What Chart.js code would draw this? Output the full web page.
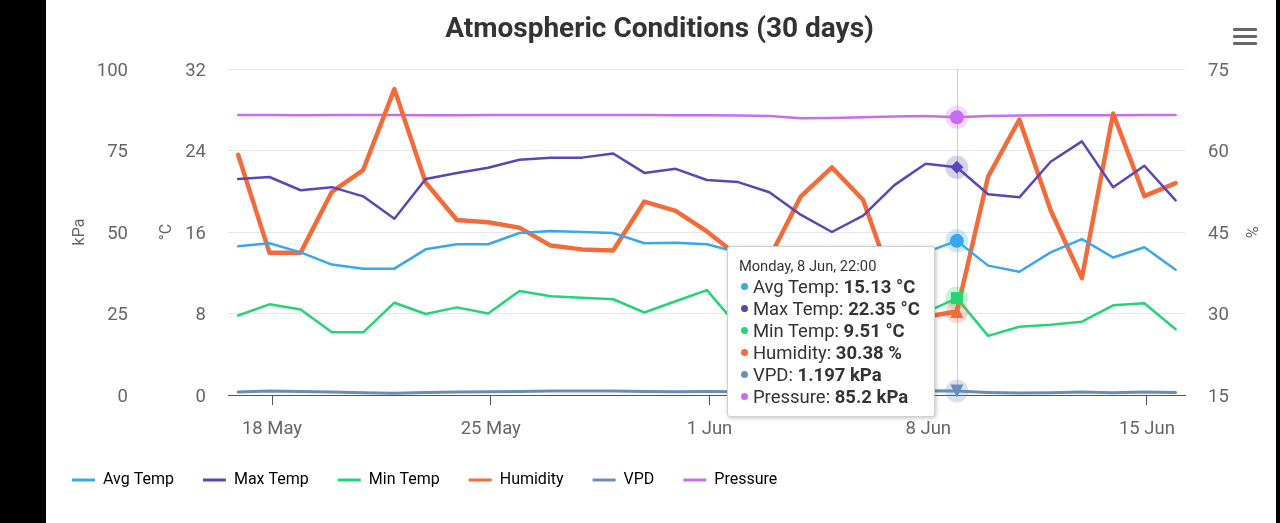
<!DOCTYPE html>
<html>
<head>
<meta charset="utf-8">
<title>Atmospheric Conditions</title>
<script src="https://cdn.jsdelivr.net/npm/chart.js@4.4.1/dist/chart.umd.min.js"></script>
<style>
    html, body {
        margin: 0;
        padding: 0;
        width: 1280px;
        height: 523px;
        overflow: hidden;
        background: #000;
        font-family: Roboto, 'Noto Sans', sans-serif;
    }
    #paper {
        position: absolute;
        left: 46px;
        top: 0;
        width: 1230px;
        height: 523px;
        background: #fff;
    }
    #box {
        position: absolute;
        left: 43px;
        top: 0;
        width: 1233px;
        height: 523px;
    }
    #menu {
        position: absolute;
        left: 1233px;
        top: 28px;
        width: 24px;
    }
    #menu span {
        display: block;
        height: 3px;
        margin-bottom: 4px;
        background: #666;
        border-radius: 1px;
    }
    #tip {
        position: absolute;
        display: none;
        background: #fff;
        border: 1px solid #d0d0d0;
        border-radius: 3px;
        box-shadow: 1px 1px 4px rgba(0, 0, 0, 0.25);
        padding: 9px 14px 8px 11px;
        color: #333;
        white-space: nowrap;
        pointer-events: none;
    }
    #tip .t { font-size: 14.7px; line-height: 21px; margin-bottom: 0; }
    #tip .r { font-size: 18.5px; line-height: 21.9px; }
    #tip .d {
        display: inline-block;
        width: 7px;
        height: 7px;
        border-radius: 50%;
        margin: 0 5px 3px 2px;
        vertical-align: middle;
    }
    #tip b { font-weight: bold; }
</style>
</head>
<body>
<div id="paper"></div>
<div id="box">
    <canvas id="chart"></canvas>
    <div id="tip"></div>
</div>
<div id="menu"><span></span><span></span><span></span></div>

<script>
// one reading per day, taken at 22:00
const days = [
    '2020-05-16', '2020-05-17', '2020-05-18', '2020-05-19', '2020-05-20', '2020-05-21',
    '2020-05-22', '2020-05-23', '2020-05-24', '2020-05-25', '2020-05-26', '2020-05-27',
    '2020-05-28', '2020-05-29', '2020-05-30', '2020-05-31', '2020-06-01', '2020-06-02',
    '2020-06-03', '2020-06-04', '2020-06-05', '2020-06-06', '2020-06-07', '2020-06-08',
    '2020-06-09', '2020-06-10', '2020-06-11', '2020-06-12', '2020-06-13', '2020-06-14',
    '2020-06-15'
];
const readingTime = 'T22:00:00Z';
const tickDays = ['2020-05-18', '2020-05-25', '2020-06-01', '2020-06-08', '2020-06-15'];

const avgTemp = [14.6, 14.9, 14.0, 12.8, 12.4, 12.4, 14.3, 14.8, 14.8, 15.9, 16.1, 16.0, 15.9, 14.9, 14.95, 14.8,
    14.0, 13.2, 12.2, 11.4, 12.3, 13.4, 14.0, 15.13, 12.7, 12.1, 14.0, 15.3, 13.5, 14.5, 12.3];
const maxTemp = [21.2, 21.4, 20.1, 20.4, 19.5, 17.3, 21.2, 21.8, 22.3, 23.1, 23.3, 23.3, 23.7, 21.8, 22.2, 21.1,
    20.9, 19.9, 17.7, 16.0, 17.6, 20.6, 22.7, 22.35, 19.7, 19.4, 22.9, 24.9, 20.4, 22.5, 19.1];
const minTemp = [7.8, 8.9, 8.4, 6.15, 6.15, 9.06, 7.95, 8.6, 8.0, 10.2, 9.7, 9.55, 9.4, 8.1, 9.2, 10.3,
    6.7, 6.2, 5.8, 5.3, 6.0, 7.2, 8.1, 9.51, 5.8, 6.7, 6.9, 7.2, 8.8, 9.0, 6.45];
const humidity = [59.2, 41.2, 41.2, 52.4, 56.4, 71.3, 54.1, 47.2, 46.8, 45.8, 42.5, 41.8, 41.6, 50.6, 48.9, 45.1,
    40.6, 40.2, 51.5, 56.9, 50.9, 34.6, 29.4, 30.38, 55.2, 65.7, 49.0, 36.5, 66.8, 51.6, 54.0];
const vpd = [0.9, 1.2, 1.1, 0.9, 0.7, 0.5, 0.8, 0.9, 1.0, 1.1, 1.2, 1.2, 1.2, 1.1, 1.0, 1.1,
    1.0, 0.9, 0.8, 0.7, 0.9, 1.0, 1.3, 1.197, 0.8, 0.6, 0.7, 0.9, 0.7, 0.9, 0.8];
const pressure = [85.9, 85.9, 85.8, 85.9, 85.9, 85.9, 85.8, 85.8, 85.9, 85.9, 85.9, 85.9, 85.9, 85.9, 85.8, 85.8,
    85.7, 85.6, 84.9, 85.0, 85.2, 85.4, 85.6, 85.2, 85.6, 85.7, 85.8, 85.8, 85.8, 85.9, 85.9];

const kpaTicks = { min: 0, max: 100, step: 25 };
const tempTicks = { min: 0, max: 32, step: 8 };
const humTicks = { min: 15, max: 75, step: 15 };

const hoverIndex = 23;  // 8 Jun, 22:00
const padBeforeHours = 7.8;
const padAfterHours = 7.2;

const HOUR = 3600 * 1000;
const times = days.map(d => Date.parse(d + readingTime));
const tickTimes = tickDays.map(d => Date.parse(d + 'T00:00:00Z'));

const weekdays = ['Sunday', 'Monday', 'Tuesday', 'Wednesday', 'Thursday', 'Friday', 'Saturday'];
const months = ['Jan', 'Feb', 'Mar', 'Apr', 'May', 'Jun', 'Jul', 'Aug', 'Sep', 'Oct', 'Nov', 'Dec'];

function fmtDay(ms) {
    const d = new Date(ms);
    return `${d.getUTCDate()} ${months[d.getUTCMonth()]}`;
}

function fmtFull(ms) {
    const d = new Date(ms);
    const hh = String(d.getUTCHours()).padStart(2, '0');
    const mm = String(d.getUTCMinutes()).padStart(2, '0');
    return `${weekdays[d.getUTCDay()]}, ${fmtDay(ms)}, ${hh}:${mm}`;
}

function series(label, values, color, axis, unit, width, marker) {
    return {
        label,
        data: values,
        yAxisID: axis,
        unit,
        marker,
        borderColor: color,
        backgroundColor: color,
        borderWidth: width,
        borderJoinStyle: 'round',
        borderCapStyle: 'round',
        tension: 0,
        pointRadius: 0,
        pointHoverRadius: 0,
        fill: false
    };
}

function externalTip(context) {
    const { chart, tooltip } = context;
    const el = document.getElementById('tip');
    if (tooltip.opacity === 0 || !tooltip.dataPoints || !tooltip.dataPoints.length) {
        el.style.display = 'none';
        return;
    }
    const points = tooltip.dataPoints;
    let html = `<div class="t">${fmtFull(times[points[0].dataIndex])}</div>`;
    points.forEach(p => {
        const ds = p.dataset;
        html += `<div class="r"><span class="d" style="background:${ds.borderColor}"></span>` +
            `${ds.label}: <b>${p.raw} ${ds.unit}</b></div>`;
    });
    el.innerHTML = html;
    el.style.display = 'block';
    const x = points[0].element.x;
    el.style.left = (x - el.offsetWidth - 22) + 'px';
    el.style.top = (chart.chartArea.bottom + 22 - el.offsetHeight) + 'px';
}

// hover marker shapes, like the ones used by the original chart
function markerPath(ctx, shape, x, y, r) {
    ctx.beginPath();
    if (shape === 'diamond') {
        ctx.moveTo(x, y - r);
        ctx.lineTo(x + r, y);
        ctx.lineTo(x, y + r);
        ctx.lineTo(x - r, y);
    } else if (shape === 'square') {
        ctx.rect(x - r, y - r, 2 * r, 2 * r);
    } else if (shape === 'triangle') {
        ctx.moveTo(x, y - r);
        ctx.lineTo(x + r, y + r);
        ctx.lineTo(x - r, y + r);
    } else if (shape === 'triangle-down') {
        ctx.moveTo(x - r, y - r);
        ctx.lineTo(x + r, y - r);
        ctx.lineTo(x, y + r);
    } else {
        ctx.arc(x, y, r, 0, Math.PI * 2);
    }
    ctx.closePath();
}

const hoverMarks = {
    id: 'hoverMarks',
    beforeDatasetsDraw(chart) {
        const act = chart.getActiveElements();
        if (!act.length) return;
        const { ctx, chartArea } = chart;
        const x = Math.round(act[0].element.x) + 0.5;
        ctx.save();
        ctx.strokeStyle = '#cccccc';
        ctx.lineWidth = 1;
        ctx.beginPath();
        ctx.moveTo(x, chartArea.top);
        ctx.lineTo(x, chartArea.bottom);
        ctx.stroke();
        ctx.restore();
    },
    afterDatasetsDraw(chart) {
        const { ctx } = chart;
        const act = chart.getActiveElements();
        ctx.save();
        // halos first, then the markers on top
        act.forEach(a => {
            const ds = chart.data.datasets[a.datasetIndex];
            ctx.fillStyle = ds.borderColor + '40';
            ctx.beginPath();
            ctx.arc(a.element.x, a.element.y, 11.5, 0, Math.PI * 2);
            ctx.fill();
        });
        act.forEach(a => {
            const ds = chart.data.datasets[a.datasetIndex];
            ctx.fillStyle = ds.borderColor;
            markerPath(ctx, ds.marker.shape, a.element.x, a.element.y, ds.marker.size);
            ctx.fill();
        });
        ctx.restore();
    }
};

Chart.defaults.font.family = 'Roboto';

const tickFont = { size: 18.5 };
const axisTitleFont = { size: 16 };

const chart = new Chart(document.getElementById('chart'), {
    type: 'line',
    data: {
        labels: times,
        datasets: [
            series('Avg Temp', avgTemp, '#3ba6ea', 'yTemp', '°C', 2.5, { shape: 'circle', size: 7 }),
            series('Max Temp', maxTemp, '#5a46b6', 'yTemp', '°C', 2.5, { shape: 'diamond', size: 6.5 }),
            series('Min Temp', minTemp, '#25d474', 'yTemp', '°C', 2.5, { shape: 'square', size: 6 }),
            series('Humidity', humidity, '#f26b3a', 'yHum', '%', 4.5, { shape: 'triangle', size: 6.5 }),
            series('VPD', vpd, '#6a8cbd', 'yKpa', 'kPa', 3, { shape: 'triangle-down', size: 6.5 }),
            series('Pressure', pressure, '#c86cf0', 'yKpa', 'kPa', 2.5, { shape: 'circle', size: 7 })
        ]
    },
    options: {
        responsive: true,
        maintainAspectRatio: false,
        animation: false,
        events: [],
        layout: { padding: { top: 0, left: 0, right: 0, bottom: 25 } },
        interaction: { mode: 'index', intersect: false },
        plugins: {
            title: {
                display: true,
                text: 'Atmospheric Conditions (30 days)',
                color: '#333333',
                font: { size: 28, weight: 'bold' },
                padding: { top: 13, bottom: 22.4 }
            },
            legend: {
                position: 'bottom',
                align: 'start',
                labels: {
                    boxWidth: 23,
                    boxHeight: 3,
                    padding: 29,
                    color: '#333333',
                    font: { size: 16 },
                    generateLabels: ch => ch.data.datasets.map((ds, i) => ({
                        text: ds.label,
                        fillStyle: ds.borderColor,
                        strokeStyle: ds.borderColor,
                        lineWidth: 0,
                        hidden: false,
                        datasetIndex: i
                    }))
                }
            },
            tooltip: {
                enabled: false,
                mode: 'index',
                intersect: false,
                external: externalTip
            }
        },
        scales: {
            x: {
                type: 'linear',
                min: times[0] - padBeforeHours * HOUR,
                max: times[times.length - 1] + padAfterHours * HOUR,
                afterBuildTicks: s => { s.ticks = tickTimes.map(v => ({ value: v })); },
                afterFit: s => { s.height = 48; },
                ticks: {
                    color: '#666666',
                    font: tickFont,
                    padding: 13,
                    maxRotation: 0,
                    autoSkip: false,
                    callback: v => fmtDay(v)
                },
                grid: { drawOnChartArea: false, drawTicks: true, tickLength: 10, tickColor: '#555555' },
                border: { color: '#555555', width: 1 }
            },
            yKpa: {
                position: 'left',
                weight: 2,
                min: kpaTicks.min,
                max: kpaTicks.max,
                afterFit: s => { s.width = 99; },
                ticks: { stepSize: kpaTicks.step, padding: 14, labelOffset: 2, color: '#666666', font: tickFont },
                grid: { display: false, drawTicks: false },
                border: { display: false },
                title: { display: true, text: 'kPa', color: '#666666', font: axisTitleFont, padding: { top: 27.4 } }
            },
            yTemp: {
                position: 'left',
                weight: 1,
                min: tempTicks.min,
                max: tempTicks.max,
                afterFit: s => { s.width = 86; },
                ticks: { stepSize: tempTicks.step, padding: 22, labelOffset: 2, color: '#666666', font: tickFont },
                grid: { color: '#e6e6e6', drawTicks: false },
                border: { display: false },
                title: { display: true, text: '°C', color: '#666666', font: axisTitleFont, padding: { top: 15.4 } }
            },
            yHum: {
                position: 'right',
                min: humTicks.min,
                max: humTicks.max,
                afterFit: s => { s.width = 91; },
                ticks: { stepSize: humTicks.step, padding: 23, labelOffset: 2, color: '#666666', font: tickFont },
                grid: { display: false, drawTicks: false },
                border: { display: false },
                title: { display: true, text: '%', color: '#666666', font: axisTitleFont, padding: { top: 16.4 } }
            }
        }
    },
    plugins: [hoverMarks]
});

const active = chart.data.datasets.map((_, i) => ({ datasetIndex: i, index: hoverIndex }));
chart.setActiveElements(active);
chart.tooltip.setActiveElements(active, { x: 0, y: 0 });
chart.update();
</script>
</body>
</html>
